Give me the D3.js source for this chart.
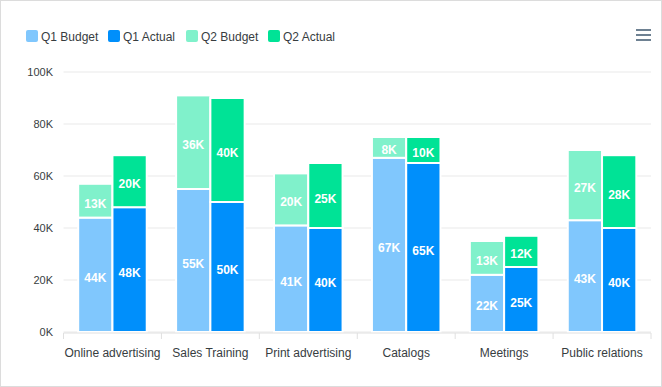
<!DOCTYPE html>
<html>
<head>
<meta charset="utf-8">
<script src="https://cdn.jsdelivr.net/npm/d3@7"></script>
<style>
  body { margin: 0; background: #fff; }
  svg { display: block; font-family: Helvetica, Arial, sans-serif; }
</style>
</head>
<body>
<svg id="chart" width="662" height="387"></svg>
<script>
const categories = ["Online advertising", "Sales Training", "Print advertising", "Catalogs", "Meetings", "Public relations"];
const q1Budget = [44, 55, 41, 67, 22, 43];
const q1Actual = [48, 50, 40, 65, 25, 40];
const q2Budget = [13, 36, 20, 8, 13, 27];
const q2Actual = [20, 40, 25, 10, 12, 28];
const seriesNames = ["Q1 Budget", "Q1 Actual", "Q2 Budget", "Q2 Actual"];
const colors = ["#80c7fd", "#008ffb", "#80f1cb", "#00e396"];
const yTicks = [0, 20, 40, 60, 80, 100];

const svg = d3.select("svg#chart");
const W = 662, H = 387;
const m = { left: 63.5, right: 11, top: 72, bottom: 55 };

svg.append("rect")
  .attr("x", 0.5).attr("y", 0.5)
  .attr("width", W - 1).attr("height", H - 1)
  .attr("fill", "#fff").attr("stroke", "#dcdcdc");

let x = d3.scaleBand()
  .domain(categories)
  .range([m.left, W - m.right]);

let y = d3.scaleLinear()
  .domain([0, 100])
  .range([H - m.bottom, m.top]);

// grid
svg.append("g")
  .selectAll("line")
  .data(yTicks)
  .enter()
  .append("line")
  .attr("x1", m.left).attr("x2", W - m.right)
  .attr("y1", d => y(d)).attr("y2", d => y(d))
  .attr("stroke", "#e9e9e9");

// y labels
svg.append("g")
  .selectAll("text")
  .data(yTicks)
  .enter()
  .append("text")
  .attr("x", 53)
  .attr("y", d => y(d) + 4)
  .attr("text-anchor", "end")
  .attr("font-size", 11)
  .attr("fill", "#373d3f")
  .text(d => d + "K");

// bars: two stacks per category (Budget, Actual)
const groups = [
  { base: q1Budget, top: q2Budget, c: [colors[0], colors[2]] },
  { base: q1Actual, top: q2Actual, c: [colors[1], colors[3]] }
];
const barW = x.bandwidth() * 0.7 / 2;

categories.forEach((cat, i) => {
  groups.forEach((g, j) => {
    const bx = x(cat) + x.bandwidth() * 0.15 + j * barW;
    const segs = [
      { v0: 0, v1: g.base[i], c: g.c[0], v: g.base[i] },
      { v0: g.base[i], v1: g.base[i] + g.top[i], c: g.c[1], v: g.top[i] }
    ];
    segs.forEach(s => {
      svg.append("rect")
        .attr("x", bx)
        .attr("y", y(s.v1))
        .attr("width", barW)
        .attr("height", y(s.v0) - y(s.v1))
        .attr("fill", s.c)
        .attr("stroke", "#fff")
        .attr("stroke-width", 2);
      svg.append("text")
        .attr("x", bx + barW / 2)
        .attr("y", (y(s.v0) + y(s.v1)) / 2 + 7)
        .attr("text-anchor", "middle")
        .attr("font-size", 12)
        .attr("font-weight", "bold")
        .attr("fill", "#fff")
        .text(s.v + "K");
    });
  });
});

// x axis
const axisY = H - m.bottom + 1;
svg.append("line")
  .attr("x1", m.left).attr("x2", W - m.right)
  .attr("y1", axisY).attr("y2", axisY)
  .attr("stroke", "#e0e0e0");
svg.append("g")
  .selectAll("line")
  .data(categories.concat(["end"]))
  .enter()
  .append("line")
  .attr("x1", (d, i) => m.left + i * x.step())
  .attr("x2", (d, i) => m.left + i * x.step())
  .attr("y1", axisY).attr("y2", axisY + 6)
  .attr("stroke", "#e0e0e0");
svg.append("g")
  .selectAll("text")
  .data(categories)
  .enter()
  .append("text")
  .attr("x", d => x(d) + x.bandwidth() / 2)
  .attr("y", 357)
  .attr("text-anchor", "middle")
  .attr("font-size", 12)
  .attr("fill", "#373d3f")
  .text(d => d);

// legend
const legendX = [26, 108, 186, 268];
const lg = svg.append("g")
  .selectAll("g")
  .data(seriesNames)
  .enter()
  .append("g")
  .attr("transform", (d, i) => `translate(${legendX[i]},30)`);
lg.append("rect")
  .attr("width", 12).attr("height", 12)
  .attr("rx", 2)
  .attr("fill", (d, i) => colors[i]);
lg.append("text")
  .attr("x", 15).attr("y", 11)
  .attr("font-size", 12)
  .attr("fill", "#373d3f")
  .text(d => d);

// menu icon
svg.append("g")
  .selectAll("rect")
  .data([0, 1, 2])
  .enter()
  .append("rect")
  .attr("x", 636).attr("y", d => 29 + d * 5)
  .attr("width", 15).attr("height", 2)
  .attr("fill", "#6e8192");
</script>
</body>
</html>
